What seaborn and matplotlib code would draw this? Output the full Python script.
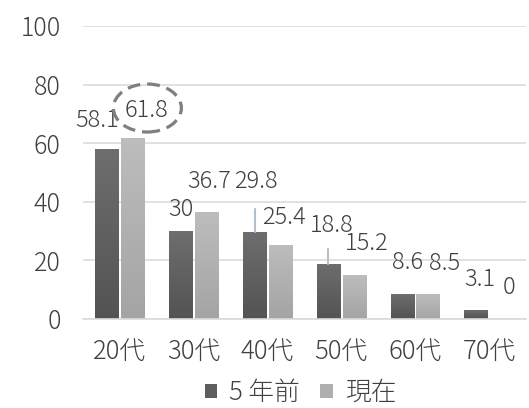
import numpy as np
import pandas as pd
import matplotlib
matplotlib.use("Agg")
import matplotlib.pyplot as plt
import matplotlib.transforms as mtransforms
from matplotlib.patches import Ellipse, Patch
from matplotlib.colors import LinearSegmentedColormap
import seaborn as sns

# ---- data ----
ages = ["20代", "30代", "40代", "50代", "60代", "70代"]
before = [58.1, 30, 29.8, 18.8, 8.6, 3.1]
now = [61.8, 36.7, 25.4, 15.2, 8.5, 0]
series = ["5 年前", "現在"]
yticks = [0, 20, 40, 60, 80, 100]

df = pd.DataFrame({
    "age": ages * 2,
    "value": before + now,
    "series": [series[0]] * len(ages) + [series[1]] * len(ages),
})

sns.set_theme(style="white")
plt.rcParams["font.family"] = ["Noto Sans CJK JP", "DejaVu Sans"]
plt.rcParams["font.weight"] = "light"
TXT = "#404040"

fig = plt.figure(figsize=(5.29, 4.08), dpi=100)
ax = fig.add_axes([0.157, 0.218, 0.837, 0.718])

palette = {series[0]: "#606060", series[1]: "#b0b0b0"}
sns.barplot(data=df, x="age", y="value", hue="series", order=ages,
            hue_order=series, palette=palette, width=0.7, gap=0.1,
            saturation=1, legend=False, ax=ax)

ax.set_ylim(0, 100)
ax.set_xlim(-0.5, len(ages) - 0.5)
ax.set_yticks(yticks)
ax.set_xlabel("")
ax.set_ylabel("")
ax.grid(axis="y", color="#d9d9d9", linewidth=1.1)
ax.set_axisbelow(True)
for s in ["left", "right", "top"]:
    ax.spines[s].set_visible(False)
ax.spines["bottom"].set_color("#d6dbe3")
ax.spines["bottom"].set_linewidth(1.2)
ax.tick_params(axis="y", length=0, labelsize=18, labelcolor=TXT, pad=16)
ax.tick_params(axis="x", length=0, labelsize=18.5, labelcolor=TXT, pad=14)

# vertical gradient fill for each bar
grad_colors = {0: ("#6e6e6e", "#535353"), 1: ("#bdbdbd", "#a4a4a4")}
bars_by_series = [ax.containers[0], ax.containers[1]]
grad = np.linspace(0, 1, 256).reshape(-1, 1)
for si, cont in enumerate(bars_by_series):
    top_c, bot_c = grad_colors[si]
    cmap = LinearSegmentedColormap.from_list(f"g{si}", [top_c, bot_c])
    for patch in cont.patches:
        x0, y0 = patch.get_x(), patch.get_y()
        w, h = patch.get_width(), patch.get_height()
        if h <= 0:
            patch.set_visible(False)
            continue
        im = ax.imshow(grad, cmap=cmap, aspect="auto",
                       extent=(x0, x0 + w, y0, y0 + h), origin="upper",
                       zorder=2)
        im.set_clip_path(patch)
        patch.set_facecolor("none")
        patch.set_edgecolor("none")
ax.set_xlim(-0.5, len(ages) - 0.5)
ax.set_ylim(0, 100)

# value labels (offsets in pixels from the top of each bar)
label_offsets = {
    0: [(-10, 28), (0, 22), (1, 50), (3, 38), (5, 31), (4, 30)],
    1: [(14, 28), (2, 30), (3, 27), (12, 31), (17, 31), (7, 32)],
}
for si, (cont, vals) in enumerate(zip(bars_by_series, [before, now])):
    for i, (patch, v) in enumerate(zip(cont.patches, vals)):
        cx = patch.get_x() + patch.get_width() / 2
        dx, dy = label_offsets[si][i]
        ax.annotate(f"{v:g}", xy=(cx, v), xytext=(dx, dy),
                    textcoords="offset pixels", ha="center", va="center",
                    fontsize=17, color=TXT, zorder=5)

# leader lines for the two labels lifted away from their bars
for (si, i), length in {(0, 2): 23, (0, 3): 15}.items():
    patch = bars_by_series[si].patches[i]
    cx = patch.get_x() + patch.get_width() / 2
    v = [before, now][si][i]
    px, py = ax.transData.transform((cx, v))
    ax.plot([px, px], [py, py + length], transform=mtransforms.IdentityTransform(),
            color="#b4bfcc", linewidth=1.5, zorder=4)

# dashed ellipse around the current 20代 value
patch = bars_by_series[1].patches[0]
cx = patch.get_x() + patch.get_width() / 2
px, py = ax.transData.transform((cx, now[0]))
ell = Ellipse((px + 14.5, py + 30), 68, 48, transform=mtransforms.IdentityTransform(),
              fill=False, edgecolor="#7f7f7f", linewidth=2.3,
              linestyle=(0, (4, 2.2)), zorder=6)
fig.add_artist(ell)

handles = [Patch(facecolor="#5e5e5e", edgecolor="none"),
           Patch(facecolor="#afafaf", edgecolor="none")]
fig.legend(handles, series, loc="center", bbox_to_anchor=(0.568, 0.037), ncol=2,
           frameon=False, fontsize=18.5, labelcolor=TXT, handlelength=0.5,
           handleheight=0.5, handletextpad=0.45, columnspacing=0.8)

fig.savefig("out.png", dpi=100)
